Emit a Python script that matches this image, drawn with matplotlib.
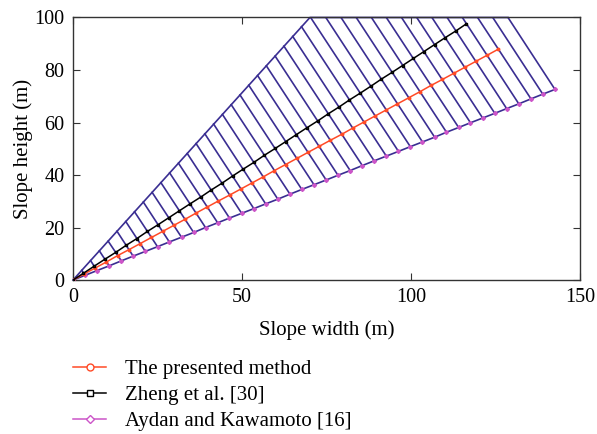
import matplotlib.pyplot as plt

plt.rcParams['font.family'] = ['Liberation Serif', 'DejaVu Serif']

# Aydan and Kawamoto [16] - slice bases on the failure surface
aydan_x = [0, 3.6, 7.1, 10.7, 14.3, 17.8, 21.4, 25.0, 28.5, 32.1, 35.7, 39.2, 42.8, 46.3,
           49.9, 53.5, 57.0, 60.6, 64.2, 67.7, 71.3, 74.9, 78.4, 82.0, 85.6, 89.1, 92.7,
           96.3, 99.8, 103.4, 107.0, 110.5, 114.1, 117.6, 121.2, 124.8, 128.3, 131.9,
           135.5, 139.0, 142.6]
aydan_y = [0, 1.8, 3.6, 5.4, 7.3, 9.1, 10.9, 12.7, 14.5, 16.3, 18.1, 20.0, 21.8, 23.6,
           25.4, 27.2, 29.0, 30.8, 32.7, 34.5, 36.3, 38.1, 39.9, 41.7, 43.6, 45.4, 47.2,
           49.0, 50.8, 52.6, 54.4, 56.3, 58.1, 59.9, 61.7, 63.5, 65.3, 67.1, 69.0, 70.8,
           72.6]

# top ends of the slices on the ground surface
slice_top_x = [0, 2.6, 5.2, 7.8, 10.4, 13.0, 15.6, 18.2, 20.8, 23.4, 26.0, 28.6, 31.2,
               33.8, 36.4, 39.0, 41.6, 44.2, 46.8, 49.4, 52.0, 54.6, 57.2, 59.8, 62.4,
               65.0, 67.6, 70.3, 74.8, 79.3, 83.8, 88.3, 92.7, 97.2, 101.7, 106.2,
               110.7, 115.2, 119.7, 124.2, 128.7]
slice_top_y = [0, 3.7, 7.4, 11.1, 14.8, 18.6, 22.3, 26.0, 29.7, 33.4, 37.1, 40.8, 44.5,
               48.2, 52.0, 55.7, 59.4, 63.1, 66.8, 70.5, 74.2, 77.9, 81.6, 85.3, 89.1,
               92.8, 96.5, 100, 100, 100, 100, 100, 100, 100, 100, 100, 100, 100, 100,
               100, 100]

# ground surface of the slope
ground_x = [0, 70.1, 128.7]
ground_y = [0, 100, 100]

# Zheng et al. [30]
zheng_x = [0, 3.1, 6.3, 9.4, 12.6, 15.7, 18.9, 22.0, 25.2, 28.3, 31.5, 34.6, 37.8, 40.9,
           44.1, 47.2, 50.3, 53.5, 56.6, 59.8, 62.9, 66.1, 69.2, 72.4, 75.5, 78.7, 81.8,
           85.0, 88.1, 91.2, 94.4, 97.5, 100.7, 103.8, 107.0, 110.1, 113.3, 116.4]
zheng_y = [0, 2.6, 5.3, 7.9, 10.5, 13.2, 15.8, 18.5, 21.1, 23.7, 26.4, 29.0, 31.6, 34.3,
           36.9, 39.6, 42.2, 44.8, 47.5, 50.1, 52.7, 55.4, 58.0, 60.6, 63.3, 65.9, 68.6,
           71.2, 73.8, 76.5, 79.1, 81.7, 84.4, 87.0, 89.7, 92.3, 94.9, 97.6]

# The presented method
present_x = [0, 3.3, 6.6, 9.9, 13.2, 16.6, 19.9, 23.2, 26.5, 29.8, 33.1, 36.4, 39.7, 43.0,
             46.4, 49.7, 53.0, 56.3, 59.6, 62.9, 66.2, 69.5, 72.8, 76.1, 79.5, 82.8, 86.1,
             89.4, 92.7, 96.0, 99.3, 102.6, 105.9, 109.3, 112.6, 115.9, 119.2, 122.5, 125.8]
present_y = [0, 2.3, 4.6, 6.9, 9.3, 11.6, 13.9, 16.2, 18.5, 20.8, 23.1, 25.5, 27.8, 30.1,
             32.4, 34.7, 37.0, 39.3, 41.7, 44.0, 46.3, 48.6, 50.9, 53.2, 55.5, 57.9, 60.2,
             62.5, 64.8, 67.1, 69.4, 71.7, 74.1, 76.4, 78.7, 81.0, 83.3, 85.6, 87.9]

blue = '#3a2e92'
red = '#ff4a26'
magenta = '#cc55c8'

fig = plt.figure(figsize=(5.97, 4.34), dpi=100)
ax = fig.add_axes([0.1223, 0.3548, 0.8492, 0.6049])

for i in range(1, len(aydan_x)):
    ax.plot([aydan_x[i], slice_top_x[i]], [aydan_y[i], slice_top_y[i]],
            color=blue, lw=1.2, zorder=2)
ax.plot(ground_x, ground_y, color=blue, lw=1.2, zorder=2, clip_on=False)

l1, = ax.plot(present_x, present_y, color=red, lw=1.1, marker='o', ms=1.8,
              mfc=red, mec=red, zorder=4, label='The presented method')
l2, = ax.plot(zheng_x, zheng_y, color='black', lw=1.1, marker='s', ms=1.9,
              mfc='#333333', mec='black', zorder=4, label='Zheng et al. [30]')
l3, = ax.plot(aydan_x, aydan_y, color=blue, lw=1.2, marker='D', ms=2.0,
              mfc=magenta, mec=magenta, zorder=3, label='Aydan and Kawamoto [16]')

ax.set_xlim(0, 150)
ax.set_ylim(0, 100)
ax.set_xticks([0, 50, 100, 150])
ax.set_yticks([0, 20, 40, 60, 80, 100])
ax.tick_params(direction='in', top=True, right=True, labelsize=14.5, length=5,
               color='#333333')
ax.tick_params(axis='x', pad=6)
ax.tick_params(axis='y', pad=6)
for s in ax.spines.values():
    s.set_color('#333333')
    s.set_linewidth(1.0)
ax.set_xlabel('Slope width (m)', fontsize=15, labelpad=9)
ax.set_ylabel('Slope height (m)', fontsize=15, labelpad=1)

# legend handles: open markers, magenta line for Aydan
h1 = plt.Line2D([], [], color=red, lw=1.1, marker='o', ms=5, mfc='white', mec=red)
h2 = plt.Line2D([], [], color='black', lw=1.1, marker='s', ms=5, mfc='white', mec='black')
h3 = plt.Line2D([], [], color=magenta, lw=1.1, marker='D', ms=4.5, mfc='white', mec=magenta)
fig.legend([h1, h2, h3], [l1.get_label(), l2.get_label(), l3.get_label()],
           loc='upper left', bbox_to_anchor=(0.122, 0.171), frameon=False,
           fontsize=15, handlelength=1.6, handletextpad=0.9, labelspacing=0.3,
           borderpad=0, borderaxespad=0)

fig.savefig('out.png', dpi=100)
